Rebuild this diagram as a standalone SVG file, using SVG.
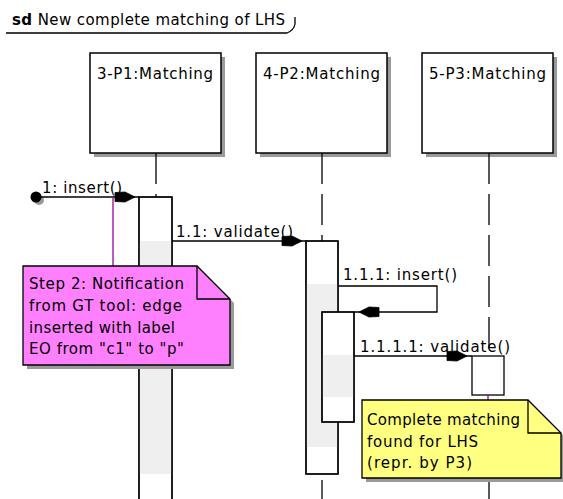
<svg xmlns="http://www.w3.org/2000/svg" width="563" height="499" viewBox="0 0 563 499">
<style>
text{font-family:"DejaVu Sans","Liberation Sans",sans-serif;font-size:15px;fill:#000}
.box{fill:#fff;stroke:#000;stroke-width:1.5}
.shadow{fill:#9a9a9a;stroke:none}
.life{stroke:#000;stroke-width:1.3;stroke-dasharray:31 10;fill:none}
.bar{fill:#fff;stroke:#000;stroke-width:1.3}
.barline{fill:none;stroke:#000;stroke-width:1.3}
.gray{fill:#efefef;stroke:none}
.msg{fill:none;stroke:#000;stroke-width:1.3}
.head{fill:#000;stroke:#000;stroke-width:0.8}
.notelink{stroke:#990099;stroke-width:1.3;fill:none}
.note{stroke:#000;stroke-width:1.3}
</style>
<defs>
<polygon id="ah" points="0,0 -10,-5 -20,-4.5 -20,4.5 -10,5"/>
</defs>

<g id="frame-title">
<text x="12" y="25" textLength="273" lengthAdjust="spacing"><tspan font-weight="bold">sd</tspan> New complete matching of LHS</text>
<path d="M6,33 H287 Q294,30 295,24 V17" fill="none" stroke="#000" stroke-width="1.3"/>
</g>

<g id="lifeline-P1">
<rect class="shadow" x="94" y="57" width="131" height="100"/>
<rect class="box" x="90" y="53" width="131" height="100"/>
<text x="97" y="79" textLength="116" lengthAdjust="spacing">3-P1:Matching</text>
<line class="life" x1="156" y1="153" x2="156" y2="197"/>
</g>
<g id="lifeline-P2">
<rect class="shadow" x="260" y="57" width="131" height="100"/>
<rect class="box" x="256" y="53" width="131" height="100"/>
<text x="263" y="79" textLength="117" lengthAdjust="spacing">4-P2:Matching</text>
<line class="life" x1="322" y1="153" x2="322" y2="241"/>
<line class="life" x1="322" y1="480" x2="322" y2="499"/>
</g>
<g id="lifeline-P3">
<rect class="shadow" x="426" y="57" width="131" height="100"/>
<rect class="box" x="422" y="53" width="131" height="100"/>
<text x="429" y="79" textLength="117" lengthAdjust="spacing">5-P3:Matching</text>
<line class="life" x1="489" y1="153" x2="489" y2="356"/>
<line class="life" x1="489" y1="478" x2="489" y2="499"/>
</g>

<g id="activation-P1">
<rect class="bar" x="139" y="197" width="33" height="320"/>
<rect class="gray" x="139.7" y="241" width="31.6" height="233"/>
<rect class="barline" x="139" y="197" width="33" height="320"/>
</g>
<g id="activation-P2">
<rect class="bar" x="306" y="241" width="32" height="233"/>
<rect class="gray" x="306.7" y="284" width="30.6" height="163"/>
<rect class="barline" x="306" y="241" width="32" height="233"/>
</g>
<g id="activation-P2-nested">
<rect class="bar" x="322" y="312" width="32" height="110"/>
<rect class="gray" x="322.7" y="355" width="30.6" height="42"/>
<rect class="barline" x="322" y="312" width="32" height="110"/>
</g>
<g id="activation-P3">
<rect class="bar" x="472" y="356" width="32" height="39"/>
</g>

<g id="connectors">
<circle cx="39" cy="200" r="5" fill="#9a9a9a"/>
<circle cx="36" cy="197" r="5.5" fill="#000"/>
<line class="msg" x1="36" y1="197" x2="139" y2="197"/>
<use href="#ah" class="head" transform="translate(135,197)"/>
<text x="42" y="193" textLength="80" lengthAdjust="spacing">1: insert()</text>

<line class="msg" x1="172" y1="241" x2="306" y2="241"/>
<use href="#ah" class="head" transform="translate(302,241)"/>
<text x="176" y="237" textLength="117" lengthAdjust="spacing">1.1: validate()</text>

<path class="msg" d="M338,286 H437 V312 H354"/>
<use href="#ah" class="head" transform="translate(359,312) rotate(180)"/>
<text x="343" y="280" textLength="114" lengthAdjust="spacing">1.1.1: insert()</text>

<line class="msg" x1="354" y1="356" x2="472" y2="356"/>
<use href="#ah" class="head" transform="translate(467,356)"/>
<text x="360" y="352" textLength="150" lengthAdjust="spacing">1.1.1.1: validate()</text>

<line class="notelink" x1="113" y1="198" x2="113" y2="266"/>
<line class="notelink" x1="488" y1="395" x2="488" y2="400"/>
</g>

<g id="note-step2">
<path class="shadow" d="M27,270 H201 L234,303 V369 H27 Z"/>
<path class="note" fill="#ff80ff" d="M23,266 H197 L230,299 V365 H23 Z"/>
<path class="note" fill="none" d="M197,266 V299 H230"/>
<text x="29" y="289" textLength="155" lengthAdjust="spacing">Step 2: Notification</text>
<text x="29" y="311" textLength="153" lengthAdjust="spacing">from GT tool: edge</text>
<text x="29" y="333" textLength="146" lengthAdjust="spacing">inserted with label</text>
<text x="29" y="354" textLength="155" lengthAdjust="spacing">EO from "c1" to "p"</text>
</g>

<g id="note-complete">
<path class="shadow" d="M366,404 H532 L565,437 V482 H366 Z"/>
<path class="note" fill="#ffff80" d="M362,400 H528 L561,433 V478 H362 Z"/>
<path class="note" fill="none" d="M528,400 V433 H561"/>
<text x="367" y="425" textLength="153" lengthAdjust="spacing">Complete matching</text>
<text x="367" y="447" textLength="111" lengthAdjust="spacing">found for LHS</text>
<text x="367" y="468" textLength="105" lengthAdjust="spacing">(repr. by P3)</text>
</g>
</svg>
